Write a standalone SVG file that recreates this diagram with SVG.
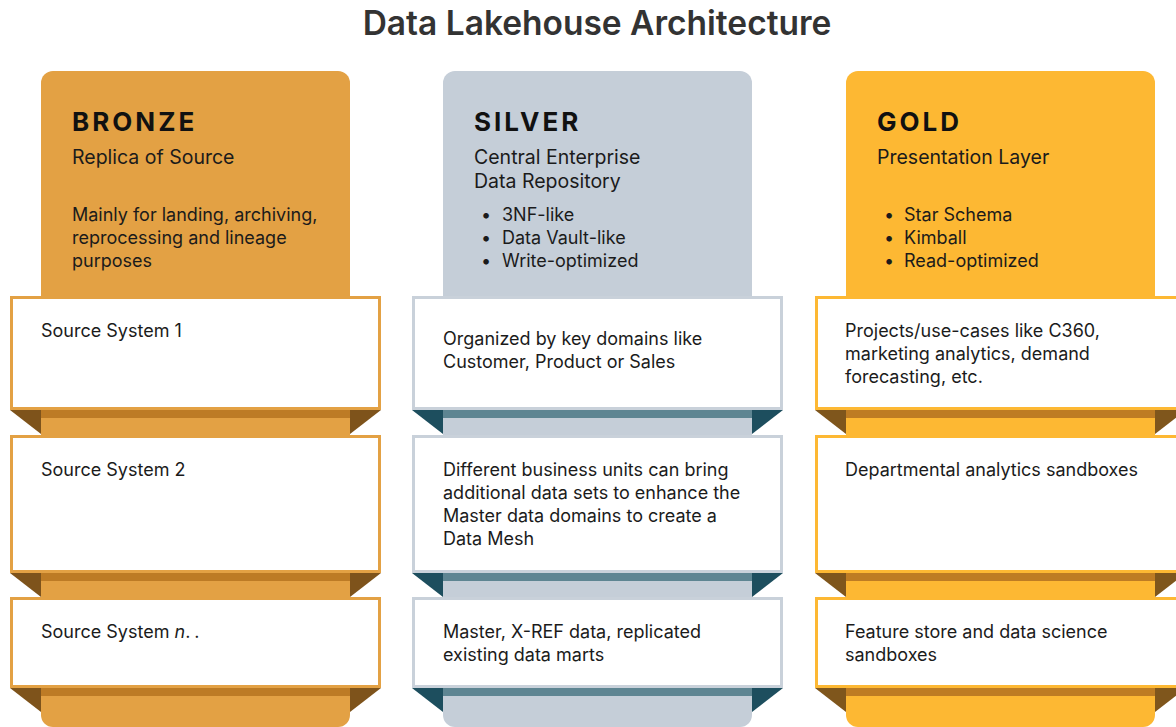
<svg xmlns="http://www.w3.org/2000/svg" width="1176" height="727" viewBox="0 0 1176 727">
<style>
text{font-family:Inter,"Noto Sans","Liberation Sans",sans-serif;fill:#1b1b1b}
.title{font-size:33.5px;font-weight:600;fill:#333}
.hd{font-size:26px;font-weight:700;letter-spacing:3px;fill:#111}
.sub{font-size:19.5px}
.t{font-size:18px}
.bz{fill:#E3A144}.bzb{fill:#BD7B25}.bzt{fill:#7E531B}
.sv{fill:#C5CED8}.svb{fill:#5E8592}.svt{fill:#1D4E5E}
.gd{fill:#FDB833}.gdb{fill:#BE7C23}.gdt{fill:#7F561C}
.cb{fill:#fff;stroke:#E3A144;stroke-width:3}
.cs{fill:#fff;stroke:#C9D1DA;stroke-width:3}
.cg{fill:#fff;stroke:#FDB833;stroke-width:3}
</style>
<rect width="1176" height="727" fill="#fff"/>
<text class="title" x="597" y="35" text-anchor="middle">Data Lakehouse Architecture</text>

<g id="bronze">
<rect class="bz" x="41" y="71" width="309" height="656" rx="12"/>
<rect class="bzb" x="41" y="410" width="309" height="8"/>
<polygon class="bzt" points="10,410 41,410 41,434"/>
<polygon class="bzt" points="381,410 350,410 350,434"/>
<rect class="bzb" x="41" y="573" width="309" height="8"/>
<polygon class="bzt" points="10,573 41,573 41,597"/>
<polygon class="bzt" points="381,573 350,573 350,597"/>
<rect class="bzb" x="41" y="688" width="309" height="8"/>
<polygon class="bzt" points="10,688 41,688 41,712"/>
<polygon class="bzt" points="381,688 350,688 350,712"/>
<text class="hd" x="72" y="131">BRONZE</text>
<text class="sub" x="72" y="164">Replica of Source</text>
<text class="t" x="72" y="221">Mainly for landing, archiving,</text>
<text class="t" x="72" y="244">reprocessing and lineage</text>
<text class="t" x="72" y="267">purposes</text>
<g id="bronze-1"><rect class="cb" x="11.5" y="297.5" width="368" height="111"/><text class="t" x="41" y="337">Source System 1</text></g>
<g id="bronze-2"><rect class="cb" x="11.5" y="436.5" width="368" height="135"/><text class="t" x="41" y="476">Source System 2</text></g>
<g id="bronze-3"><rect class="cb" x="11.5" y="598.5" width="368" height="88"/><text class="t" x="41" y="638">Source System <tspan font-style="italic">n</tspan><tspan letter-spacing="4">..</tspan></text></g>
</g>

<g id="silver">
<rect class="sv" x="443" y="71" width="309" height="656" rx="12"/>
<rect class="svb" x="443" y="410" width="309" height="8"/>
<polygon class="svt" points="412,410 443,410 443,434"/>
<polygon class="svt" points="783,410 752,410 752,434"/>
<rect class="svb" x="443" y="573" width="309" height="8"/>
<polygon class="svt" points="412,573 443,573 443,597"/>
<polygon class="svt" points="783,573 752,573 752,597"/>
<rect class="svb" x="443" y="688" width="309" height="8"/>
<polygon class="svt" points="412,688 443,688 443,712"/>
<polygon class="svt" points="783,688 752,688 752,712"/>
<text class="hd" x="474" y="131">SILVER</text>
<text class="sub" x="474" y="164">Central Enterprise</text>
<text class="sub" x="474" y="188">Data Repository</text>
<text class="t" x="481" y="221">•</text><text class="t" x="502" y="221">3NF-like</text>
<text class="t" x="481" y="244">•</text><text class="t" x="502" y="244">Data Vault-like</text>
<text class="t" x="481" y="267">•</text><text class="t" x="502" y="267">Write-optimized</text>
<g id="silver-1"><rect class="cs" x="413.5" y="297.5" width="368" height="111"/><text class="t" x="443" y="345">Organized by key domains like</text><text class="t" x="443" y="368">Customer, Product or Sales</text></g>
<g id="silver-2"><rect class="cs" x="413.5" y="436.5" width="368" height="135"/><text class="t" x="443" y="476">Different business units can bring</text><text class="t" x="443" y="499">additional data sets to enhance the</text><text class="t" x="443" y="522">Master data domains to create a</text><text class="t" x="443" y="545">Data Mesh</text></g>
<g id="silver-3"><rect class="cs" x="413.5" y="598.5" width="368" height="88"/><text class="t" x="443" y="638">Master, X-REF data, replicated</text><text class="t" x="443" y="661">existing data marts</text></g>
</g>

<g id="gold">
<rect class="gd" x="846" y="71" width="309" height="656" rx="12"/>
<rect class="gdb" x="846" y="410" width="309" height="8"/>
<polygon class="gdt" points="815,410 846,410 846,434"/>
<polygon class="gdt" points="1186,410 1155,410 1155,434"/>
<rect class="gdb" x="846" y="573" width="309" height="8"/>
<polygon class="gdt" points="815,573 846,573 846,597"/>
<polygon class="gdt" points="1186,573 1155,573 1155,597"/>
<rect class="gdb" x="846" y="688" width="309" height="8"/>
<polygon class="gdt" points="815,688 846,688 846,712"/>
<polygon class="gdt" points="1186,688 1155,688 1155,712"/>
<text class="hd" x="877" y="131">GOLD</text>
<text class="sub" x="877" y="164">Presentation Layer</text>
<text class="t" x="884" y="221">•</text><text class="t" x="904" y="221">Star Schema</text>
<text class="t" x="884" y="244">•</text><text class="t" x="904" y="244">Kimball</text>
<text class="t" x="884" y="267">•</text><text class="t" x="904" y="267">Read-optimized</text>
<g id="gold-1"><rect class="cg" x="816.5" y="297.5" width="368" height="111"/><text class="t" x="845" y="337">Projects/use-cases like C360,</text><text class="t" x="845" y="360">marketing analytics, demand</text><text class="t" x="845" y="383">forecasting, etc.</text></g>
<g id="gold-2"><rect class="cg" x="816.5" y="436.5" width="368" height="135"/><text class="t" x="845" y="476">Departmental analytics sandboxes</text></g>
<g id="gold-3"><rect class="cg" x="816.5" y="598.5" width="368" height="88"/><text class="t" x="845" y="638">Feature store and data science</text><text class="t" x="845" y="661">sandboxes</text></g>
</g>
<g id="connectors"/>
</svg>
